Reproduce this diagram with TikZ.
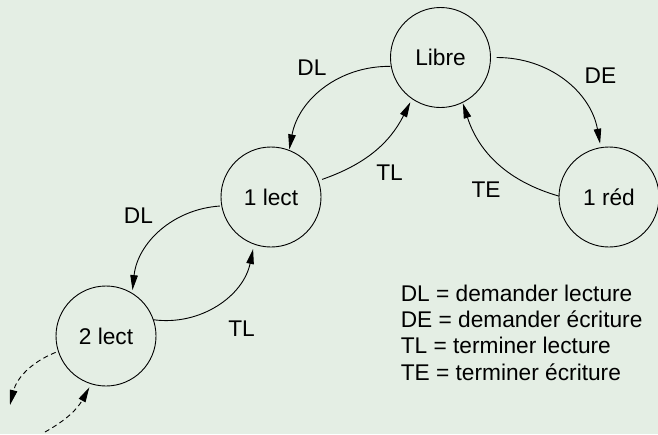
\documentclass[tikz,border=0pt]{standalone}
\usepackage{fontspec}
\setmainfont{Liberation Sans}
\usetikzlibrary{arrows.meta,calc}
\definecolor{paper}{RGB}{228,238,228}
\begin{document}
\begin{tikzpicture}[x=1pt,y=-1pt,
  txt/.style={inner sep=0pt, font=\fontsize{22.7}{26}\selectfont,
              text height=16.3pt, text depth=0pt},
  state/.style={txt, draw, circle, minimum size=100pt, line width=0.9pt},
  trans/.style={line width=0.9pt, -{Triangle[length=15pt,width=7.5pt]}},
  loose/.style={trans, dash pattern=on 5pt off 3.5pt},
  legend/.style={inner sep=0pt, font=\fontsize{22.7}{26}\selectfont, anchor=base west}]
  % page (y runs downwards, so polar angles below are clockwise)
  \fill[paper] (0,0) rectangle (658,434);
  \useasboundingbox (0,0) rectangle (658,434);

  % states
  \node[state] (libre) at (440.5,57.5) {Libre};
  \node[state] (l1)    at (271,197)    {1 lect};
  \node[state] (l2)    at (106,336)    {2 lect};
  \node[state] (red)   at (609,197)    {1 réd};

  % free ends of the transitions towards further readers
  \coordinate (out3) at (10,405);
  \coordinate (in3)  at (45,432);

  % transitions
  \draw[trans] ($(libre)+(-190:51)$) to[bend right=40] ($(l1)+(-69:51)$);
  \draw[trans] ($(l1)+(-19:54)$)     to[bend right=22] ($(libre)+(-236:54)$);
  \draw[trans] ($(libre)+(0:56)$)    to[bend left=40]  ($(red)+(-99.5:54)$);
  \draw[trans] ($(red)+(-179:50)$)   to[bend left=28]  ($(libre)+(-296:51)$);
  \draw[trans] ($(l1)+(-190:52)$)    to[bend right=40] ($(l2)+(-60:53)$);
  \draw[trans] ($(l2)+(-19:50)$)     to[bend right=43] ($(l1)+(-251:55)$);
  \draw[loose] ($(l2)+(-198:53)$)    to[bend right=27] (out3);
  \draw[loose] (in3)                 to[bend right=16] ($(l2)+(-252:54)$);

  % transition labels
  \node[txt] (dl1) at (312,67)    {DL};
  \node[txt] (tl1) at (389.5,172) {TL};
  \node[txt] (de)  at (600.5,75.5){DE};
  \node[txt] (te)  at (486,189)   {TE};
  \node[txt] (dl2) at (138.5,215) {DL};
  \node[txt] (tl2) at (241.5,328) {TL};

  % legend
  \node[legend] (k1) at (400.6,301.7) {DL = demander lecture};
  \node[legend] (k2) at (400.6,327.8) {DE = demander écriture};
  \node[legend] (k3) at (400.6,353.9) {TL = terminer lecture};
  \node[legend] (k4) at (400.6,380.0) {TE = terminer écriture};
\end{tikzpicture}
\end{document}
